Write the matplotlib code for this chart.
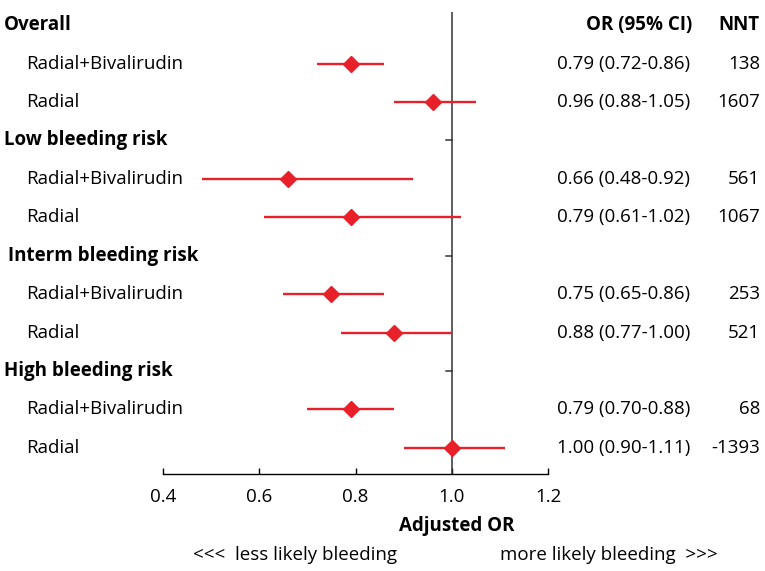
import numpy as np
import matplotlib
matplotlib.use('Agg')
import matplotlib.pyplot as plt
import matplotlib.transforms as mtransforms

plt.rcParams['font.family'] = ['Open Sans', 'DejaVu Sans']

# rows, top to bottom
labels = ['Overall', 'Radial+Bivalirudin', 'Radial',
          'Low bleeding risk', 'Radial+Bivalirudin', 'Radial',
          'Interm bleeding risk', 'Radial+Bivalirudin', 'Radial',
          'High bleeding risk', 'Radial+Bivalirudin', 'Radial']
is_header = [True, False, False, True, False, False, True, False, False, True, False, False]
est = [None, 0.79, 0.96, None, 0.66, 0.79, None, 0.75, 0.88, None, 0.79, 1.00]
lo = [None, 0.72, 0.88, None, 0.48, 0.61, None, 0.65, 0.77, None, 0.70, 0.90]
hi = [None, 0.86, 1.05, None, 0.92, 1.02, None, 0.86, 1.00, None, 0.88, 1.11]
nnt = [None, '138', '1607', None, '561', '1067', None, '253', '521', None, '68', '-1393']

RED = '#e8202a'
FS = 13.5

fig = plt.figure(figsize=(7.65, 5.71), dpi=100)
ax = fig.add_axes([163/765, 1-474/571, (548-163)/765, (474-12)/571])
ax.set_xlim(0.4, 1.2)
ax.set_ylim(11.68, -0.34)

for i in range(len(labels)):
    if est[i] is None:
        continue
    ax.plot([lo[i], hi[i]], [i, i], color=RED, lw=1.7, solid_capstyle='butt', zorder=3)
    ax.plot(est[i], i, marker='D', color=RED, ms=8.5, zorder=4)

ax.axvline(1.0, color='#333333', lw=1.1, zorder=2)
for i in range(len(labels)):
    if is_header[i] and i > 0:
        ax.plot([0.988, 1.0], [i, i], color='#333333', lw=1.1, zorder=2)

for s in ['left', 'top', 'right']:
    ax.spines[s].set_visible(False)
ax.spines['bottom'].set_linewidth(1.0)
ax.set_yticks([])
ax.set_xticks([0.4, 0.6, 0.8, 1.0, 1.2])
ax.set_xticklabels(['0.4', '0.6', '0.8', '1.0', '1.2'])
ax.tick_params(axis='x', direction='in', length=4, width=1.0, labelsize=FS, pad=10)

trans = mtransforms.blended_transform_factory(fig.transFigure, ax.transData)
for i, lab in enumerate(labels):
    if is_header[i]:
        xh = 8/765 if lab.startswith('Interm') else 4/765
        ax.text(xh, i, lab, transform=trans, fontsize=FS, fontweight='bold', va='center', ha='left')
    else:
        ax.text(26/765, i, lab, transform=trans, fontsize=FS, va='center', ha='left')
    if est[i] is not None:
        ax.text(690/765, i, '%.2f (%.2f-%.2f)' % (est[i], lo[i], hi[i]), transform=trans,
                fontsize=FS, va='center', ha='right')
        ax.text(760/765, i, nnt[i], transform=trans, fontsize=FS, va='center', ha='right')

ax.text(692/765, 0, 'OR (95% CI)', transform=trans, fontsize=FS, fontweight='bold',
        va='center', ha='right')
ax.text(760/765, 0, 'NNT', transform=trans, fontsize=FS, fontweight='bold',
        va='center', ha='right')

fig.text(457/765, 1-526/571, 'Adjusted OR', fontsize=FS, fontweight='bold', ha='center', va='center')
fig.text(193/765, 1-555/571, '<<<  less likely bleeding', fontsize=FS, ha='left', va='center')
fig.text(718/765, 1-555/571, 'more likely bleeding  >>>', fontsize=FS, ha='right', va='center')

fig.savefig('out.png', dpi=100)
